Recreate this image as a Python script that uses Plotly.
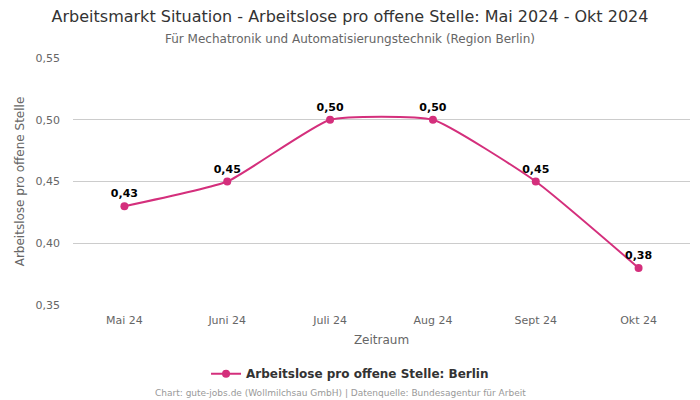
import plotly.graph_objects as go

months = ["Mai 24", "Juni 24", "Juli 24", "Aug 24", "Sept 24", "Okt 24"]
values = [0.43, 0.45, 0.50, 0.50, 0.45, 0.38]
labels = ["0,43", "0,45", "0,50", "0,50", "0,45", "0,38"]
y_ticks = [0.35, 0.40, 0.45, 0.50, 0.55]

color = "#d42f7c"
font = "DejaVu Sans"

fig = go.Figure()
fig.add_trace(go.Scatter(
    x=months, y=values, mode="lines+markers+text",
    line=dict(color=color, width=2, shape="spline", smoothing=0.45),
    marker=dict(color=color, size=8),
    text=labels, textposition="top center",
    textfont=dict(family=font, size=11, color="#000000", weight="bold"),
    name="Arbeitslose pro offene Stelle: Berlin",
    cliponaxis=False,
))

fig.update_layout(
    width=700, height=400,
    margin=dict(l=73, r=10, t=58, b=95),
    paper_bgcolor="white", plot_bgcolor="white",
    separators=",.",
    font=dict(family=font, color="#666666"),
    title=dict(
        text="Arbeitsmarkt Situation - Arbeitslose pro offene Stelle: Mai 2024 - Okt 2024",
        x=0.5, xanchor="center", y=0.972, yanchor="top",
        font=dict(family=font, size=16, color="#333333"),
    ),
    showlegend=True,
    legend=dict(orientation="h", x=0.449, xanchor="center", y=-0.278, yanchor="middle",
                font=dict(family=font, size=12, color="#333333", weight="bold")),
    annotations=[
        dict(text="Für Mechatronik und Automatisierungstechnik (Region Berlin)",
             xref="paper", yref="paper", x=0.449, y=1.0, yshift=19, xanchor="center",
             yanchor="middle", showarrow=False,
             font=dict(family=font, size=12, color="#666666")),
        dict(text="Chart: gute-jobs.de (Wollmilchsau GmbH) | Datenquelle: Bundesagentur für Arbeit",
             xref="paper", yref="paper", x=0.433, y=-0.358, xanchor="center",
             yanchor="middle", showarrow=False,
             font=dict(family=font, size=9, color="#999999")),
    ],
)
fig.update_xaxes(
    range=[-0.5, 5.5], showgrid=False, showline=False, ticks="",
    tickfont=dict(family=font, size=11, color="#666666"), ticklabelstandoff=7,
    title=dict(text="Zeitraum", font=dict(family=font, size=12, color="#666666"), standoff=9),
)
fig.update_yaxes(
    range=[0.35, 0.55], tickvals=y_ticks, tickformat=".2f",
    showgrid=True, gridcolor="#cccccc", gridwidth=1, zeroline=False, showline=False,
    tickfont=dict(family=font, size=11, color="#666666"), ticklabelstandoff=12,
    title=dict(text="Arbeitslose pro offene Stelle", font=dict(family=font, size=12, color="#666666"), standoff=8),
)
fig.write_html("out.html", config={"displayModeBar": False},
               post_script="document.body.style.margin='0';")
